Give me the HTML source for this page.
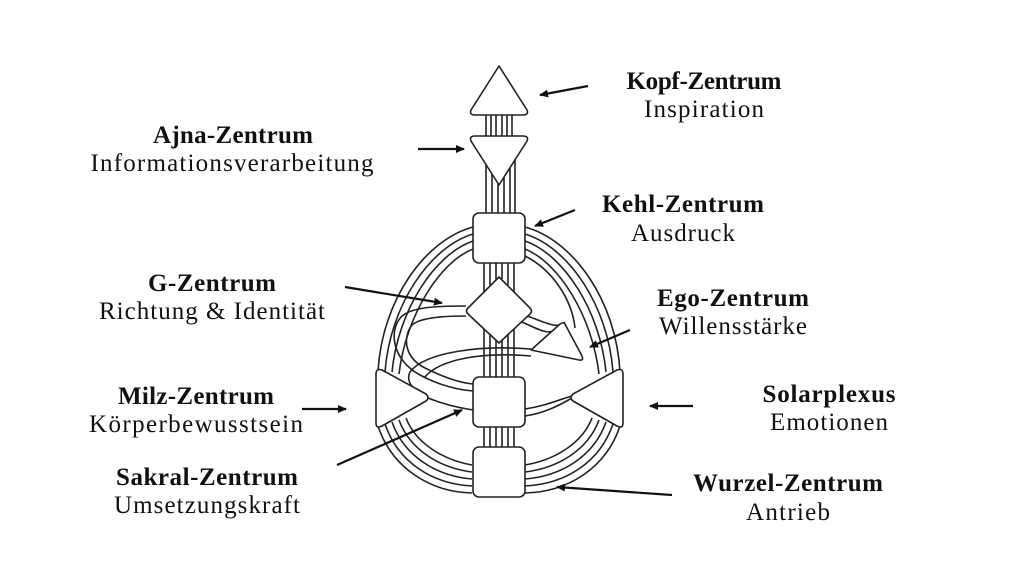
<!DOCTYPE html>
<html><head><meta charset="utf-8"><style>
html,body{margin:0;padding:0;background:#fff;}
svg{display:block}
text{font-family:"Liberation Serif",serif;fill:#111;}
.b{font-weight:bold;font-size:25px;}
.r{font-size:25px;}
</style></head><body>
<svg width="1024" height="576" viewBox="0 0 1024 576" xmlns="http://www.w3.org/2000/svg">
<defs>
<marker id="ah" markerWidth="10" markerHeight="10" refX="8" refY="5" orient="auto" markerUnits="userSpaceOnUse">
<path d="M0,1 L9,5 L0,9 Z" fill="#111"/></marker>
</defs>
<rect width="1024" height="576" fill="#fff"/>
<g fill="none" stroke="#222" stroke-width="1.6">
<path d="M473,227 C425,240 382,300 378,372"/>
<path d="M473,234 C430,247 390,305 385,372"/>
<path d="M473,241 C435,254 398,310 392,372"/>
<path d="M473,249 C440,262 406,315 399,374"/>
<path d="M525,227 C573,240 616,300 620,372"/>
<path d="M525,234 C568,247 608,305 613,372"/>
<path d="M525,241 C563,254 600,310 606,372"/>
<path d="M525,249 C558,262 592,315 599,374"/>
<path d="M525,256 C553,270 572,300 575,328"/>
<path d="M378,426 C392,468 430,492 472,493"/>
<path d="M385,424 C398,462 432,484 472,486"/>
<path d="M392,422 C404,456 436,476 472,479"/>
<path d="M399,420 C410,450 440,468 472,472"/>
<path d="M406,418 C416,444 444,460 472,465"/>
<path d="M620,426 C606,468 568,492 525,493"/>
<path d="M613,424 C600,462 566,484 525,486"/>
<path d="M606,422 C594,456 562,476 525,479"/>
<path d="M599,420 C588,450 558,468 525,472"/>
<path d="M592,418 C582,444 554,460 525,465"/>
<path d="M466,306 C430,306 412,308 402,316 C388,330 392,360 420,375 C440,386 460,390 473,391"/>
<path d="M466,316 C440,316 420,318 412,325 C402,338 405,358 425,368 C445,378 462,383 473,384"/>
<path d="M522,322 C540,330 552,338 560,325"/>
<path d="M527,316 C545,322 558,330 565,322"/>
<path d="M531,349 C480,345 425,352 410,372 C405,382 415,393 428,398"/>
<path d="M531,356 C485,352 440,358 424,378"/>
<path d="M428,398 C445,405 460,408 473,410"/>
<path d="M525,416 C545,413 560,405 572,398"/>
<path d="M525,409 C545,406 558,400 572,396"/>
<path d="M486,114 V137 M491,114 V137 M496,114 V137 M502,114 V137 M507,114 V137 M512,114 V137"/>
<path d="M486,150 V213 M492,160 V213 M498,178 V213 M504,165 V213 M510,152 V213 M515,148 V213"/>
<path d="M484,263 V292 M490,263 V285 M496,263 V279 M502,263 V279 M508,263 V285 M514,263 V292"/>
<path d="M484,328 V377 M490,334 V377 M496,340 V377 M502,340 V377 M508,334 V377 M514,328 V377"/>
<path d="M484,427 V447 M490,427 V447 M496,427 V447 M502,427 V447 M508,427 V447 M514,427 V447"/>
</g>
<g fill="#fff" stroke="#222" stroke-width="1.6" stroke-linejoin="round">
<path d="M499,66 L527,110 Q529,115 523,115 L475,115 Q469,115 471,110 Z"/>
<path d="M475,136 L523,136 Q529,136 527,141 L499,185 L471,141 Q469,136 475,136 Z"/>
<rect x="473" y="213" width="52" height="50" rx="6"/>
<path d="M499,277 L530,308 Q533,311 530,314 L499,343 L468,314 Q465,311 468,308 Z"/>
<path d="M531,350 L560,324 Q564,321 566,326 L582,356 Q584,361 579,360 Z"/>
<path d="M376,374 Q376,368 382,370 L426,394 Q430,398 426,401 L382,426 Q376,429 376,423 Z"/>
<path d="M623,374 Q623,368 617,370 L573,394 Q569,398 573,401 L617,426 Q623,429 623,423 Z"/>
<rect x="473" y="377" width="52" height="50" rx="6"/>
<rect x="473" y="447" width="52" height="50" rx="6"/>
</g>
<g stroke="#111" stroke-width="2.2" marker-end="url(#ah)">
<line x1="588" y1="86" x2="540" y2="95"/>
<line x1="418" y1="149" x2="464" y2="149"/>
<line x1="575" y1="210" x2="535" y2="226"/>
<line x1="345" y1="287" x2="442" y2="303"/>
<line x1="630" y1="330" x2="590" y2="347"/>
<line x1="302" y1="409" x2="346" y2="409"/>
<line x1="693" y1="406" x2="650" y2="406"/>
<line x1="337" y1="465" x2="462" y2="410"/>
<line x1="672" y1="495" x2="557" y2="487"/>
</g>
<g text-anchor="middle">
<text class="b" x="704" y="89" textLength="155">Kopf-Zentrum</text>
<text class="r" x="704" y="117" textLength="120">Inspiration</text>
<text class="b" x="233" y="143" textLength="160">Ajna-Zentrum</text>
<text class="r" x="232" y="171" textLength="283">Informationsverarbeitung</text>
<text class="b" x="683" y="212" textLength="162">Kehl-Zentrum</text>
<text class="r" x="683" y="241" textLength="104">Ausdruck</text>
<text class="b" x="212" y="291" textLength="128">G-Zentrum</text>
<text class="r" x="212" y="319" textLength="226">Richtung &amp; Identität</text>
<text class="b" x="733" y="306" textLength="152">Ego-Zentrum</text>
<text class="r" x="733" y="334" textLength="148">Willensstärke</text>
<text class="b" x="196" y="404" textLength="156">Milz-Zentrum</text>
<text class="r" x="196" y="432" textLength="214">Körperbewusstsein</text>
<text class="b" x="829" y="402" textLength="133">Solarplexus</text>
<text class="r" x="829" y="430" textLength="118">Emotionen</text>
<text class="b" x="207" y="485" textLength="182">Sakral-Zentrum</text>
<text class="r" x="207" y="513" textLength="186">Umsetzungskraft</text>
<text class="b" x="788" y="491" textLength="190">Wurzel-Zentrum</text>
<text class="r" x="788" y="520" textLength="84">Antrieb</text>
</g>
</svg>
</body></html>
